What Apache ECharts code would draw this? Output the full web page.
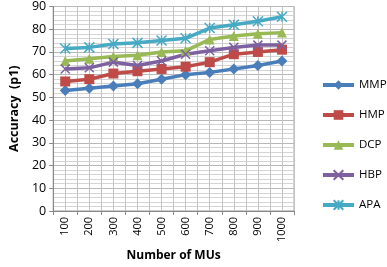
<!DOCTYPE html>
<html>
<head>
<meta charset="utf-8">
<script src="https://cdn.jsdelivr.net/npm/echarts@6/dist/echarts.min.js"></script>
<style>
	html, body { margin: 0; padding: 0; background: #fff; }
	#chart { width: 387px; height: 267px; }
</style>
</head>
<body>
<div id="chart"></div>
<script>
var categories = ['100', '200', '300', '400', '500', '600', '700', '800', '900', '1000'];
var mmp = [53, 54, 55, 56, 58, 60, 61, 62.5, 64, 66];
var hmp = [57, 58, 60.5, 61.5, 62.5, 63.5, 65.5, 69, 70, 71];
var dcp = [66, 67, 68, 68.5, 70, 70.5, 75.5, 77, 78, 78.5];
var hbp = [62.5, 63, 65.5, 64, 66, 69, 70.5, 72, 73, 73];
var apa = [71.5, 72, 73.5, 74, 75, 76, 80.5, 82, 83.5, 85.5];

var font = 'Open Sans';
var xMark = 'path://M0,0L10,10M10,0L0,10';
var starMark = 'path://M5,0L5,10M0,0L10,10M10,0L0,10';

function makeSeries(name, data, color, symbol, size, stroke) {
	return {
		name : name,
		type : 'line',
		data : data,
		symbol : symbol,
		symbolSize : size,
		lineStyle : { color : color, width : 3.5 },
		itemStyle : stroke ? { color : 'rgba(0,0,0,0)', borderColor : color, borderWidth : 1.5 } : { color : color },
		z : 3
	};
}

var chart = echarts.init(document.getElementById('chart'));
var option = {
	animation : false,
	textStyle : { fontFamily : font },
	grid : { left : 43, right : 93, top : 5, bottom : 54, show : true, borderColor : '#a0a0a0', borderWidth : 1 },
	legend : {
		orient : 'vertical',
		left : 316,
		top : 74,
		itemWidth : 31,
		itemHeight : 12,
		itemGap : 18,
		lineStyle : { width : 4 },
		textStyle : { fontFamily : font, fontSize : 11.5, color : '#000' },
		data : ['MMP', 'HMP', 'DCP', 'HBP', 'APA']
	},
	xAxis : [{
		type : 'category',
		data : categories,
		boundaryGap : true,
		name : 'Number of MUs',
		nameLocation : 'middle',
		nameGap : 38,
		nameTextStyle : { fontFamily : font, fontWeight : 'bold', fontSize : 12, color : '#000' },
		axisLine : { lineStyle : { color : '#888' } },
		axisTick : { show : true, length : 4, lineStyle : { color : '#888' } },
		axisLabel : { rotate : 90, fontFamily : font, fontSize : 11, color : '#000', margin : 6 },
		splitLine : { show : false }
	}, {
		// helper axis for the vertical grid lines (every half category)
		type : 'value',
		min : 0,
		max : 20,
		interval : 1,
		position : 'top',
		axisLine : { show : false },
		axisTick : { show : false },
		axisLabel : { show : false },
		splitLine : { show : true, lineStyle : { color : '#c4c4c4', width : 1 } }
	}],
	yAxis : {
		type : 'value',
		min : 0,
		max : 90,
		interval : 10,
		name : 'Accuracy  (p1)',
		nameLocation : 'middle',
		nameGap : 28,
		nameTextStyle : { fontFamily : font, fontWeight : 'bold', fontSize : 12.5, color : '#000' },
		axisLine : { show : true, lineStyle : { color : '#888' } },
		axisTick : { show : true, length : 4, lineStyle : { color : '#888' } },
		axisLabel : { fontFamily : font, fontSize : 12.5, color : '#000', margin : 7 },
		splitLine : { show : true, lineStyle : { color : '#b8b8b8', width : 1 } },
		minorTick : { show : false, splitNumber : 5 },
		minorSplitLine : { show : true, lineStyle : { color : '#d4d4d4', width : 1 } }
	},
	series : [
		makeSeries('MMP', mmp, '#4a7ebb', 'diamond', 11, false),
		makeSeries('HMP', hmp, '#be4b48', 'rect', 10, false),
		makeSeries('DCP', dcp, '#98b954', 'triangle', 10, false),
		makeSeries('HBP', hbp, '#7d60a0', xMark, 9, true),
		makeSeries('APA', apa, '#46aac5', starMark, 10, true)
	]
};
chart.setOption(option);
</script>
</body>
</html>
